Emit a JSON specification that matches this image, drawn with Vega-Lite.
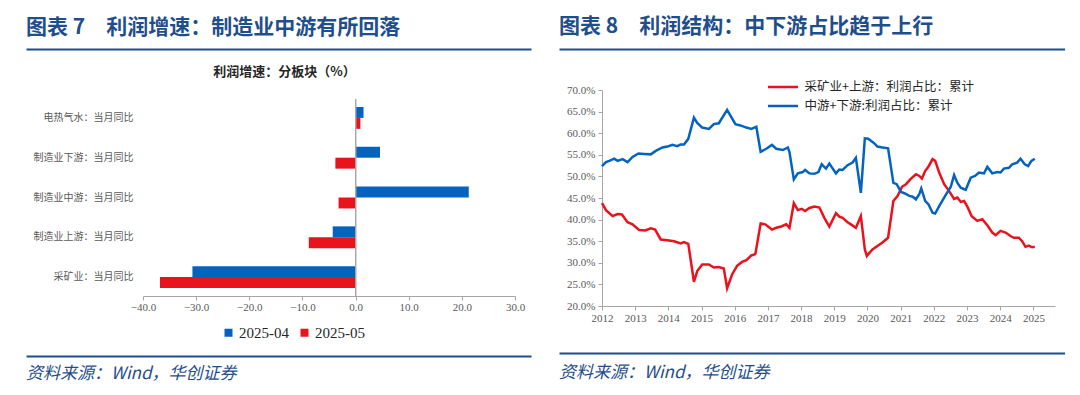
{
  "$schema": "https://vega.github.io/schema/vega-lite/v6.json",
  "background": "white",
  "padding": {"left": 23, "top": 16, "right": 0, "bottom": 0},
  "spacing": 25,
  "resolve": {"scale": {"color": "independent", "x": "independent", "y": "independent"}, "legend": {"color": "independent"}},
  "config": {
    "font": "Noto Sans CJK SC",
    "view": {"stroke": null},
    "axis": {"labelColor": "#595959", "domainColor": "#a6a6a6", "tickColor": "#a6a6a6", "grid": false, "title": null, "labelFlush": false}
  },
  "hconcat": [
    {
      "align": "none",
      "spacing": 9,
      "resolve": {"scale": {"color": "independent", "x": "independent", "y": "independent"}, "legend": {"color": "independent"}},
      "vconcat": [
        {
          "width": 505, "height": 7,
          "title": {"text": "图表 7　利润增速：制造业中游有所回落", "anchor": "start", "frame": "group", "fontSize": 21, "fontWeight": "bold", "color": "#1F4E8C", "offset": 11},
          "data": {"values": [{"h": 0}]},
          "mark": {"type": "point", "opacity": 0},
          "encoding": {"x": {"field": "h", "type": "quantitative", "scale": {"domain": [0, 1]}, "axis": {"orient": "top", "domainColor": "#1F4E8C", "domainWidth": 2, "ticks": false, "labels": false}}}
        },
        {
          "width": 489, "height": 197,
          "title": {"text": "利润增速：分板块（%）", "anchor": "middle", "frame": "group", "dx": 14, "fontSize": 13, "fontWeight": "bold", "color": "#262626", "offset": 20},
          "data": {"values": [
            {"cat": "电热气水：当月同比", "series": "2025-04", "value": 1.5},
            {"cat": "电热气水：当月同比", "series": "2025-05", "value": 0.9},
            {"cat": "制造业下游：当月同比", "series": "2025-04", "value": 4.6},
            {"cat": "制造业下游：当月同比", "series": "2025-05", "value": -3.8},
            {"cat": "制造业中游：当月同比", "series": "2025-04", "value": 21.3},
            {"cat": "制造业中游：当月同比", "series": "2025-05", "value": -3.2},
            {"cat": "制造业上游：当月同比", "series": "2025-04", "value": -4.3},
            {"cat": "制造业上游：当月同比", "series": "2025-05", "value": -8.8},
            {"cat": "采矿业：当月同比", "series": "2025-04", "value": -30.7},
            {"cat": "采矿业：当月同比", "series": "2025-05", "value": -36.8}
          ]},
          "layer": [
            {
              "mark": {"type": "bar"},
              "encoding": {
                "y": {"field": "cat", "type": "nominal", "sort": ["电热气水：当月同比", "制造业下游：当月同比", "制造业中游：当月同比", "制造业上游：当月同比", "采矿业：当月同比"], "scale": {"paddingInner": 0.45}, "axis": {"domain": false, "ticks": false, "offset": -117, "labelFontSize": 10, "labelColor": "#595959", "labelPadding": 10}},
                "yOffset": {"field": "series", "type": "nominal", "sort": ["2025-04", "2025-05"]},
                "x": {"field": "value", "type": "quantitative", "scale": {"domain": [-40, 30], "nice": false, "range": [117, 489]}, "axis": {"values": [-40, -30, -20, -10, 0, 10, 20, 30], "format": ".1f", "labelFont": "Liberation Serif", "labelFontSize": 11, "tickSize": 4, "labelPadding": 1}},
                "color": {"field": "series", "type": "nominal", "scale": {"domain": ["2025-04", "2025-05"], "range": ["#0563C0", "#E8131D"]},
                  "legend": {"title": null, "orient": "none", "legendX": 195, "legendY": 226, "direction": "horizontal", "symbolType": "square", "symbolSize": 64, "symbolStrokeWidth": 0, "labelFont": "Liberation Serif", "labelFontSize": 15, "labelColor": "#262626", "columnPadding": 8, "labelOffset": 3}}
              }
            },
            {
              "mark": {"type": "rule", "color": "#a6a6a6", "strokeWidth": 1},
              "encoding": {"x": {"datum": 0}}
            }
          ]
        },
        {
          "width": 505, "height": 6,
          "title": {"text": "资料来源：Wind，华创证券", "orient": "bottom", "anchor": "start", "frame": "group", "fontSize": 17, "fontStyle": "italic", "fontWeight": "normal", "color": "#1F4E8C", "offset": 10},
          "data": {"values": [{"h": 0}]},
          "mark": {"type": "point", "opacity": 0},
          "encoding": {"x": {"field": "h", "type": "quantitative", "scale": {"domain": [0, 1]}, "axis": {"orient": "bottom", "domainColor": "#1F4E8C", "domainWidth": 2, "ticks": false, "labels": false}}}
        }
      ]
    },
    {
      "align": "none",
      "spacing": 24,
      "resolve": {"scale": {"color": "independent", "x": "independent", "y": "independent"}, "legend": {"color": "independent"}},
      "vconcat": [
        {
          "width": 506, "height": 4,
          "title": {"text": "图表 8　利润结构：中下游占比趋于上行", "anchor": "start", "frame": "group", "fontSize": 21, "fontWeight": "bold", "color": "#1F4E8C", "offset": 11},
          "data": {"values": [{"h": 0}]},
          "mark": {"type": "point", "opacity": 0},
          "encoding": {"x": {"field": "h", "type": "quantitative", "scale": {"domain": [0, 1]}, "axis": {"orient": "top", "domainColor": "#1F4E8C", "domainWidth": 2, "ticks": false, "labels": false}}}
        },
        {
          "width": 496, "height": 216,
          "data": {"values": [
            {"s":"a","t":2012.00,"v":43.8},{"s":"a","t":2012.12,"v":42.2},{"s":"a","t":2012.32,"v":40.8},{"s":"a","t":2012.47,"v":41.3},{"s":"a","t":2012.60,"v":41.2},{"s":"a","t":2012.77,"v":39.4},{"s":"a","t":2012.92,"v":38.9},{"s":"a","t":2013.12,"v":37.6},{"s":"a","t":2013.30,"v":37.5},{"s":"a","t":2013.47,"v":38.0},{"s":"a","t":2013.60,"v":37.7},{"s":"a","t":2013.77,"v":35.4},{"s":"a","t":2013.97,"v":35.2},{"s":"a","t":2014.17,"v":35.0},{"s":"a","t":2014.37,"v":34.5},{"s":"a","t":2014.47,"v":34.8},{"s":"a","t":2014.60,"v":34.4},{"s":"a","t":2014.77,"v":25.6},{"s":"a","t":2014.87,"v":28.1},{"s":"a","t":2015.02,"v":29.6},{"s":"a","t":2015.22,"v":29.6},{"s":"a","t":2015.37,"v":28.9},{"s":"a","t":2015.52,"v":29.0},{"s":"a","t":2015.67,"v":28.7},{"s":"a","t":2015.77,"v":24.1},{"s":"a","t":2015.92,"v":27.3},{"s":"a","t":2016.07,"v":29.3},{"s":"a","t":2016.22,"v":30.2},{"s":"a","t":2016.35,"v":30.6},{"s":"a","t":2016.50,"v":31.7},{"s":"a","t":2016.62,"v":32.0},{"s":"a","t":2016.78,"v":39.1},{"s":"a","t":2016.92,"v":38.9},{"s":"a","t":2017.12,"v":37.7},{"s":"a","t":2017.25,"v":38.1},{"s":"a","t":2017.40,"v":38.4},{"s":"a","t":2017.55,"v":38.9},{"s":"a","t":2017.65,"v":38.1},{"s":"a","t":2017.78,"v":43.8},{"s":"a","t":2017.90,"v":42.2},{"s":"a","t":2018.02,"v":42.5},{"s":"a","t":2018.12,"v":42.0},{"s":"a","t":2018.25,"v":42.7},{"s":"a","t":2018.40,"v":43.0},{"s":"a","t":2018.55,"v":42.8},{"s":"a","t":2018.70,"v":40.4},{"s":"a","t":2018.85,"v":38.4},{"s":"a","t":2019.05,"v":41.5},{"s":"a","t":2019.15,"v":40.7},{"s":"a","t":2019.25,"v":40.4},{"s":"a","t":2019.40,"v":39.4},{"s":"a","t":2019.50,"v":38.9},{"s":"a","t":2019.65,"v":38.1},{"s":"a","t":2019.80,"v":40.8},{"s":"a","t":2019.92,"v":33.1},{"s":"a","t":2019.98,"v":31.6},{"s":"a","t":2020.15,"v":33.1},{"s":"a","t":2020.30,"v":33.9},{"s":"a","t":2020.45,"v":34.7},{"s":"a","t":2020.62,"v":35.8},{"s":"a","t":2020.78,"v":44.3},{"s":"a","t":2020.91,"v":45.5},{"s":"a","t":2021.04,"v":47.6},{"s":"a","t":2021.16,"v":48.2},{"s":"a","t":2021.31,"v":49.5},{"s":"a","t":2021.46,"v":50.5},{"s":"a","t":2021.56,"v":50.1},{"s":"a","t":2021.64,"v":49.5},{"s":"a","t":2021.74,"v":51.3},{"s":"a","t":2021.84,"v":52.3},{"s":"a","t":2021.96,"v":54.0},{"s":"a","t":2022.04,"v":53.6},{"s":"a","t":2022.16,"v":50.9},{"s":"a","t":2022.31,"v":48.2},{"s":"a","t":2022.46,"v":46.6},{"s":"a","t":2022.61,"v":44.8},{"s":"a","t":2022.71,"v":45.1},{"s":"a","t":2022.81,"v":44.1},{"s":"a","t":2022.91,"v":44.3},{"s":"a","t":2023.01,"v":43.0},{"s":"a","t":2023.14,"v":40.8},{"s":"a","t":2023.31,"v":39.7},{"s":"a","t":2023.46,"v":40.1},{"s":"a","t":2023.61,"v":38.7},{"s":"a","t":2023.76,"v":37.0},{"s":"a","t":2023.86,"v":36.4},{"s":"a","t":2024.01,"v":37.4},{"s":"a","t":2024.16,"v":37.0},{"s":"a","t":2024.31,"v":36.2},{"s":"a","t":2024.41,"v":35.8},{"s":"a","t":2024.56,"v":35.8},{"s":"a","t":2024.66,"v":35.0},{"s":"a","t":2024.76,"v":33.7},{"s":"a","t":2024.86,"v":34.0},{"s":"a","t":2024.96,"v":33.6},{"s":"a","t":2025.04,"v":33.7},
            {"s":"b","t":2012.00,"v":52.4},{"s":"b","t":2012.12,"v":53.3},{"s":"b","t":2012.22,"v":53.6},{"s":"b","t":2012.37,"v":54.1},{"s":"b","t":2012.47,"v":53.6},{"s":"b","t":2012.62,"v":54.0},{"s":"b","t":2012.77,"v":53.3},{"s":"b","t":2012.92,"v":54.5},{"s":"b","t":2013.10,"v":55.3},{"s":"b","t":2013.27,"v":55.2},{"s":"b","t":2013.47,"v":55.1},{"s":"b","t":2013.62,"v":55.9},{"s":"b","t":2013.82,"v":56.7},{"s":"b","t":2013.97,"v":56.9},{"s":"b","t":2014.12,"v":57.3},{"s":"b","t":2014.27,"v":57.0},{"s":"b","t":2014.37,"v":57.4},{"s":"b","t":2014.47,"v":57.4},{"s":"b","t":2014.60,"v":58.7},{"s":"b","t":2014.77,"v":63.6},{"s":"b","t":2014.87,"v":62.4},{"s":"b","t":2015.02,"v":61.3},{"s":"b","t":2015.22,"v":61.0},{"s":"b","t":2015.37,"v":62.1},{"s":"b","t":2015.52,"v":62.3},{"s":"b","t":2015.77,"v":65.4},{"s":"b","t":2016.02,"v":62.1},{"s":"b","t":2016.17,"v":61.8},{"s":"b","t":2016.35,"v":61.3},{"s":"b","t":2016.50,"v":61.0},{"s":"b","t":2016.65,"v":61.5},{"s":"b","t":2016.78,"v":55.7},{"s":"b","t":2016.95,"v":56.4},{"s":"b","t":2017.12,"v":57.3},{"s":"b","t":2017.25,"v":56.4},{"s":"b","t":2017.45,"v":56.1},{"s":"b","t":2017.60,"v":56.7},{"s":"b","t":2017.65,"v":55.6},{"s":"b","t":2017.78,"v":49.3},{"s":"b","t":2017.90,"v":50.7},{"s":"b","t":2018.05,"v":51.0},{"s":"b","t":2018.12,"v":51.5},{"s":"b","t":2018.25,"v":50.7},{"s":"b","t":2018.40,"v":50.6},{"s":"b","t":2018.52,"v":51.0},{"s":"b","t":2018.62,"v":52.8},{"s":"b","t":2018.75,"v":51.8},{"s":"b","t":2018.85,"v":53.0},{"s":"b","t":2019.05,"v":50.7},{"s":"b","t":2019.15,"v":51.6},{"s":"b","t":2019.25,"v":51.5},{"s":"b","t":2019.40,"v":52.6},{"s":"b","t":2019.55,"v":53.2},{"s":"b","t":2019.65,"v":54.3},{"s":"b","t":2019.80,"v":46.2},{"s":"b","t":2019.92,"v":58.8},{"s":"b","t":2020.02,"v":58.7},{"s":"b","t":2020.20,"v":57.7},{"s":"b","t":2020.30,"v":56.9},{"s":"b","t":2020.45,"v":56.7},{"s":"b","t":2020.62,"v":56.5},{"s":"b","t":2020.78,"v":48.5},{"s":"b","t":2020.88,"v":48.2},{"s":"b","t":2021.01,"v":46.4},{"s":"b","t":2021.11,"v":46.1},{"s":"b","t":2021.26,"v":45.5},{"s":"b","t":2021.36,"v":45.3},{"s":"b","t":2021.46,"v":44.7},{"s":"b","t":2021.56,"v":45.9},{"s":"b","t":2021.62,"v":47.2},{"s":"b","t":2021.74,"v":44.3},{"s":"b","t":2021.84,"v":43.5},{"s":"b","t":2021.96,"v":41.6},{"s":"b","t":2022.04,"v":41.4},{"s":"b","t":2022.16,"v":43.1},{"s":"b","t":2022.34,"v":45.5},{"s":"b","t":2022.51,"v":47.6},{"s":"b","t":2022.61,"v":50.3},{"s":"b","t":2022.71,"v":48.5},{"s":"b","t":2022.81,"v":47.4},{"s":"b","t":2022.96,"v":46.9},{"s":"b","t":2023.11,"v":49.7},{"s":"b","t":2023.24,"v":50.1},{"s":"b","t":2023.36,"v":50.9},{"s":"b","t":2023.51,"v":50.7},{"s":"b","t":2023.61,"v":52.2},{"s":"b","t":2023.76,"v":50.7},{"s":"b","t":2023.91,"v":51.0},{"s":"b","t":2024.01,"v":50.9},{"s":"b","t":2024.11,"v":51.8},{"s":"b","t":2024.26,"v":52.0},{"s":"b","t":2024.36,"v":52.8},{"s":"b","t":2024.51,"v":53.2},{"s":"b","t":2024.61,"v":54.1},{"s":"b","t":2024.74,"v":52.8},{"s":"b","t":2024.84,"v":52.4},{"s":"b","t":2024.94,"v":53.6},{"s":"b","t":2025.04,"v":54.1}
          ]},
          "mark": {"type": "line", "strokeWidth": 2.5},
          "encoding": {
            "x": {"field": "t", "type": "quantitative", "scale": {"domain": [2012, 2025.65], "nice": false, "zero": false, "range": [43, 496]}, "axis": {"values": [2012, 2013, 2014, 2015, 2016, 2017, 2018, 2019, 2020, 2021, 2022, 2023, 2024, 2025], "format": "d", "labelFont": "Liberation Serif", "labelFontSize": 11, "tickSize": 4, "labelPadding": 2}},
            "y": {"field": "v", "type": "quantitative", "scale": {"domain": [20, 70], "nice": false, "zero": false}, "axis": {"values": [20, 25, 30, 35, 40, 45, 50, 55, 60, 65, 70], "offset": -43, "labelExpr": "format(datum.value, '.1f') + '%'", "labelFont": "Liberation Serif", "labelFontSize": 11, "tickSize": 4, "labelPadding": 3}},
            "color": {"field": "s", "type": "nominal", "scale": {"domain": ["a", "b"], "range": ["#E8131D", "#0563C0"]},
              "legend": {"title": null, "orient": "none", "legendX": 215, "legendY": -12, "symbolType": "M-2,0H2", "symbolSize": 225, "symbolStrokeWidth": 2.5, "labelFontSize": 12.5, "labelColor": "#262626", "labelOffset": 12.5, "rowPadding": 3, "labelLimit": 400,
                "labelExpr": "datum.value == 'a' ? '采矿业+上游：利润占比：累计' : '中游+下游:利润占比：累计'"}}
          }
        },
        {
          "width": 506, "height": 6,
          "title": {"text": "资料来源：Wind，华创证券", "orient": "bottom", "anchor": "start", "frame": "group", "fontSize": 17, "fontStyle": "italic", "fontWeight": "normal", "color": "#1F4E8C", "offset": 12},
          "data": {"values": [{"h": 0}]},
          "mark": {"type": "point", "opacity": 0},
          "encoding": {"x": {"field": "h", "type": "quantitative", "scale": {"domain": [0, 1]}, "axis": {"orient": "bottom", "domainColor": "#1F4E8C", "domainWidth": 2, "ticks": false, "labels": false}}}
        }
      ]
    }
  ]
}
